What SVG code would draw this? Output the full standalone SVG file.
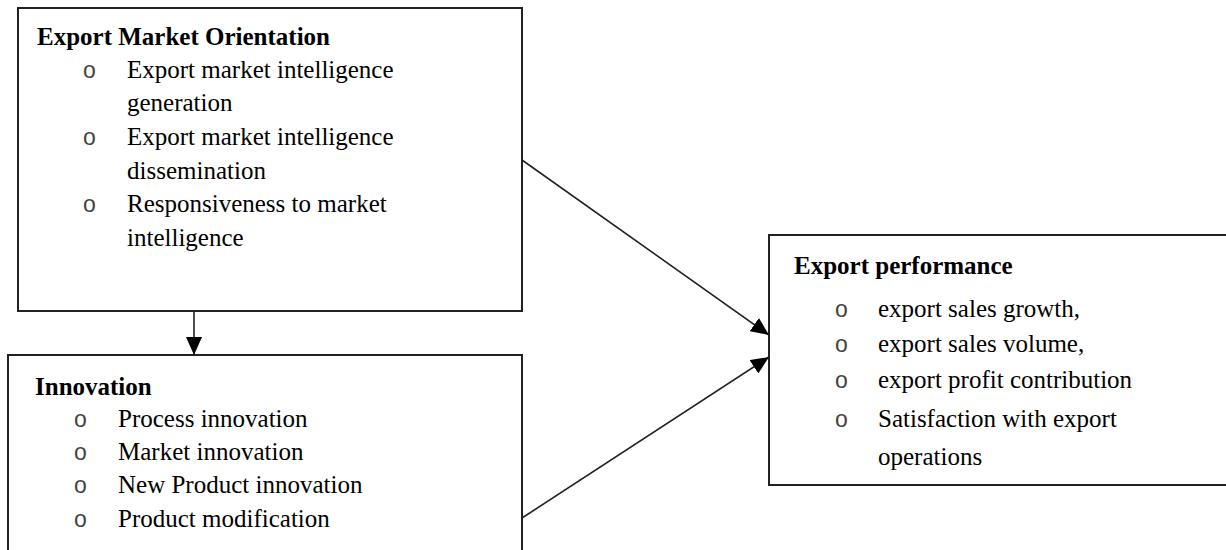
<svg xmlns="http://www.w3.org/2000/svg" width="1226" height="550" viewBox="0 0 1226 550">
<style>
.box{fill:#fff;stroke:#222;stroke-width:2}
.t{font-family:"Liberation Serif","Times New Roman",serif;font-size:25px;fill:#000}
.h{font-weight:bold}
.b{font-family:"Liberation Sans",Arial,sans-serif;font-size:23px;fill:#444}
.c{stroke:#222;stroke-width:1.6;fill:none}
</style>
<defs>
<marker id="ah" markerUnits="userSpaceOnUse" markerWidth="20" markerHeight="16" refX="18" refY="8" orient="auto">
<path d="M0,0 L18,8 L0,16 Z" fill="#000"/>
</marker>
</defs>
<rect width="1226" height="550" fill="#fff"/>
<g id="node-emo">
<rect class="box" x="18" y="8" width="504" height="303"/>
<text class="t h" x="37" y="45">Export Market Orientation</text>
<text class="b" x="83" y="78">o</text>
<text class="t" x="127" y="78">Export market intelligence</text>
<text class="t" x="127" y="111">generation</text>
<text class="b" x="83" y="145">o</text>
<text class="t" x="127" y="145">Export market intelligence</text>
<text class="t" x="127" y="179">dissemination</text>
<text class="b" x="83" y="212">o</text>
<text class="t" x="127" y="212">Responsiveness to market</text>
<text class="t" x="127" y="246">intelligence</text>
</g>
<g id="node-innovation">
<rect class="box" x="8" y="355" width="514" height="210"/>
<text class="t h" x="35" y="395">Innovation</text>
<text class="b" x="74" y="427">o</text>
<text class="t" x="118" y="427">Process innovation</text>
<text class="b" x="74" y="460">o</text>
<text class="t" x="118" y="460">Market innovation</text>
<text class="b" x="74" y="493">o</text>
<text class="t" x="118" y="493">New Product innovation</text>
<text class="b" x="74" y="527">o</text>
<text class="t" x="118" y="527">Product modification</text>
</g>
<g id="node-performance">
<rect class="box" x="769" y="235" width="470" height="250"/>
<text class="t h" x="794" y="274">Export performance</text>
<text class="b" x="835" y="317">o</text>
<text class="t" x="878" y="317">export sales growth,</text>
<text class="b" x="835" y="352">o</text>
<text class="t" x="878" y="352">export sales volume,</text>
<text class="b" x="835" y="388">o</text>
<text class="t" x="878" y="388">export profit contribution</text>
<text class="b" x="835" y="427">o</text>
<text class="t" x="878" y="427">Satisfaction with export</text>
<text class="t" x="878" y="465">operations</text>
</g>
<g id="connectors">
<line class="c" x1="194" y1="312" x2="194" y2="355" marker-end="url(#ah)"/>
<line class="c" x1="522" y1="160" x2="769" y2="335" marker-end="url(#ah)"/>
<line class="c" x1="522" y1="518" x2="769" y2="357" marker-end="url(#ah)"/>
</g>
</svg>
